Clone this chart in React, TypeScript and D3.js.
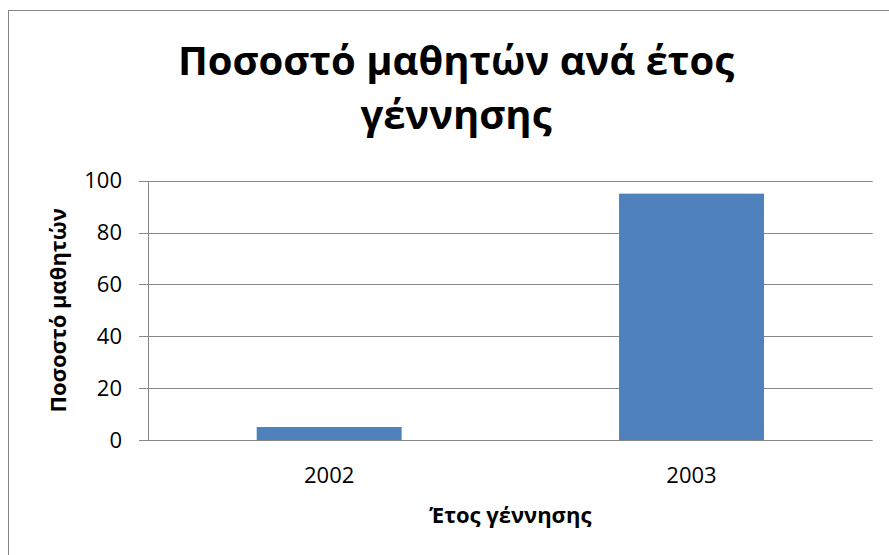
import * as d3 from 'd3';

// chart data
const years = ['2002', '2003'];
const percents = [5, 95];
const yTicks = [0, 20, 40, 60, 80, 100];

const titleLines = ['Ποσοστό μαθητών ανά έτος', 'γέννησης'];
const xTitle = 'Έτος γέννησης';
const yTitle = 'Ποσοστό μαθητών';

const FONT = '"Open Sans", "Noto Sans", sans-serif';
const GRID = '#868686';
const BAR = '#4F81BD';

export default function App() {
  // plot frame in page coordinates
  const left = 148;
  const right = 872.7;
  const top = 180.7;
  const bottom = 440;

  const x = d3.scaleBand<string>()
    .domain(years)
    .range([left, right])
    .paddingInner(0.6)
    .paddingOuter(0.3);

  const y = d3.scaleLinear().domain([0, 100]).range([bottom, top]);

  return (
    <svg width={889} height={555} style={{ display: 'block', position: 'fixed', left: 0, top: 0 }}>
      <rect x={0} y={0} width={889} height={555} fill="#fff" />
      {/* chart border, right/bottom edges fall outside the picture */}
      <rect x={8.5} y={10.5} width={900} height={560} fill="none" stroke={GRID} strokeWidth={1} />

      {/* title */}
      <text fontFamily={FONT} fontWeight="bold" fontSize={40} fill="#000" textAnchor="middle">
        {titleLines.map((t, i) => (
          <tspan key={i} x={456} y={75 + i * 54}>{t}</tspan>
        ))}
      </text>

      {/* gridlines */}
      {yTicks.map((t) => (
        <line key={t} x1={139} x2={right} y1={Math.round(y(t)) + 0.5} y2={Math.round(y(t)) + 0.5}
          stroke={GRID} strokeWidth={1} />
      ))}
      <line x1={148.5} x2={148.5} y1={Math.round(top) + 0.5} y2={bottom + 0.5} stroke={GRID} strokeWidth={1} />

      {/* bars */}
      {years.map((yr, i) => (
        <rect key={yr} x={x(yr)} width={x.bandwidth()} y={y(percents[i])}
          height={y(0) - y(percents[i])} fill={BAR} />
      ))}

      {/* y tick labels */}
      {yTicks.map((t) => (
        <text key={t} x={122} y={y(t)} dy="0.35em" textAnchor="end"
          fontFamily={FONT} fontSize={22} fill="#000">{t}</text>
      ))}

      {/* x tick labels */}
      {years.map((yr) => (
        <text key={yr} x={(x(yr) ?? 0) + x.bandwidth() / 2} y={483} textAnchor="middle"
          fontFamily={FONT} fontSize={22} fill="#000">{yr}</text>
      ))}

      {/* axis titles */}
      <text x={(left + right) / 2} y={523} textAnchor="middle" fontFamily={FONT}
        fontWeight="bold" fontSize={22} fill="#000">{xTitle}</text>
      <text transform={`translate(66,${(top + bottom) / 2}) rotate(-90)`} textAnchor="middle"
        fontFamily={FONT} fontWeight="bold" fontSize={22} fill="#000">{yTitle}</text>
    </svg>
  );
}
